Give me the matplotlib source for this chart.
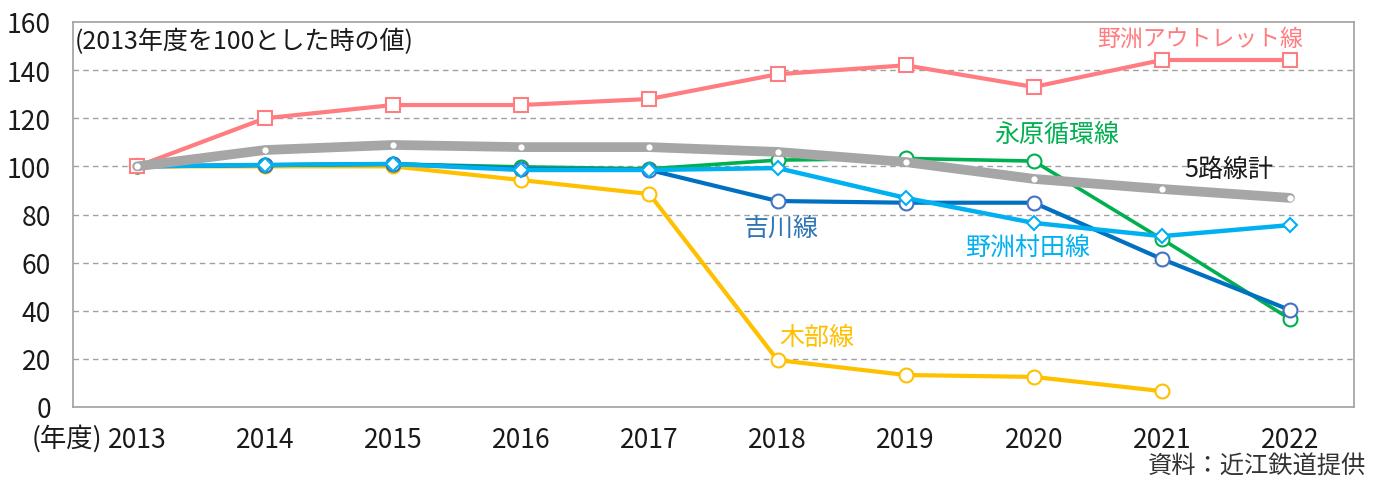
import numpy as np
import matplotlib
matplotlib.use('Agg')
import matplotlib.pyplot as plt

plt.rcParams['font.family'] = ['Noto Sans CJK JP', 'DejaVu Sans']

# Data (2013 = 100)
years = ['2013', '2014', '2015', '2016', '2017', '2018', '2019', '2020', '2021', '2022']
outlet = [100, 120, 125.5, 125.5, 128, 138.3, 142, 133, 144.2, 144.2]
nagahara = [100, 100.6, 101, 99.8, 99, 102.6, 103.3, 102.2, 69.8, 36.6]
yoshikawa = [100, 100.5, 101, 99, 98.5, 85.6, 84.9, 84.9, 61.5, 40.3]
murata = [100, 100.6, 101, 98.5, 98.5, 99.3, 86.9, 76.5, 71, 75.6]
kibe = [100, 100, 100, 94.3, 88.5, 19.5, 13.3, 12.5, 6.6, np.nan]
total = [100, 106.8, 108.9, 108, 108, 106, 101.8, 94.8, 90.6, 86.9]

x = np.arange(len(years))

fig = plt.figure(figsize=(13.76, 4.81), dpi=100)
ax = fig.add_axes([73 / 1376, 73 / 481, 1281 / 1376, 385 / 481])

# lines
ax.plot(x, kibe, color='#FFC000', lw=3, marker='o', ms=10,
        mfc='white', mec='#FFC000', mew=1.5, zorder=3)
ax.plot(x, nagahara, color='#00B050', lw=2.6, marker='o', ms=10,
        mfc='white', mec='#00B050', mew=1.5, zorder=4)
ax.plot(x, yoshikawa, color='#0070C0', lw=3, marker='o', ms=10,
        mfc='white', mec='#4472C4', mew=1.5, zorder=5)
ax.plot(x, murata, color='#00B0F0', lw=3.2, marker='D', ms=7,
        mfc='white', mec='#00B0F0', mew=1.5, zorder=6)
ax.plot(x, outlet, color='#FF7C80', lw=3, marker='s', ms=10,
        mfc='white', mec='#FF7C80', mew=1.5, zorder=7)
ax.plot(x, total, color='#A6A6A6', lw=7, marker='o', ms=4.5,
        mfc='white', mec='white', mew=0, zorder=8, solid_capstyle='round')

ax.set_xlim(-0.5, 9.5)
ax.set_ylim(0, 160)
ax.set_yticks(range(0, 161, 20))
ax.set_xticks(x)
ax.set_xticklabels(years)
ax.tick_params(axis='both', length=0, labelsize=19, colors='#1a1a1a')
ax.tick_params(axis='y', pad=16)
ax.tick_params(axis='x', pad=14)

for y in range(20, 160, 20):
    ax.axhline(y, color='#A0A0A0', lw=1, ls=(0, (4, 3)), zorder=1)

for s in ax.spines.values():
    s.set_color('#A0A0A0')
    s.set_linewidth(1.2)

# labels
ax.text(-0.49, 152, '(2013年度を100とした時の値)', fontsize=18, ha='left', va='center',
        color='#1a1a1a')
ax.text(8.3, 153, '野洲アウトレット線', fontsize=16.5, color='#FF7C80', ha='center', va='center')
ax.text(7.18, 113.5, '永原循環線', fontsize=18, color='#00B050', ha='center', va='center')
ax.text(8.52, 98.9, '5路線計', fontsize=18, color='#1a1a1a', ha='center', va='center')
ax.text(5.03, 74.4, '吉川線', fontsize=18, color='#2E75B6', ha='center', va='center')
ax.text(6.95, 66.5, '野洲村田線', fontsize=18, color='#00B0F0', ha='center', va='center')
ax.text(5.31, 29.1, '木部線', fontsize=18, color='#FFC000', ha='center', va='center')

ax.annotate('(年度)', xy=(0, 0), xycoords=('data', 'axes fraction'),
            xytext=(-25, -22), textcoords='offset points',
            ha='right', va='center', fontsize=19, color='#1a1a1a')

fig.text(1366 / 1376, 1 - 467 / 481, '資料：近江鉄道提供', fontsize=17.5,
         ha='right', va='center', color='#333333')

fig.savefig('out.png', dpi=100)
